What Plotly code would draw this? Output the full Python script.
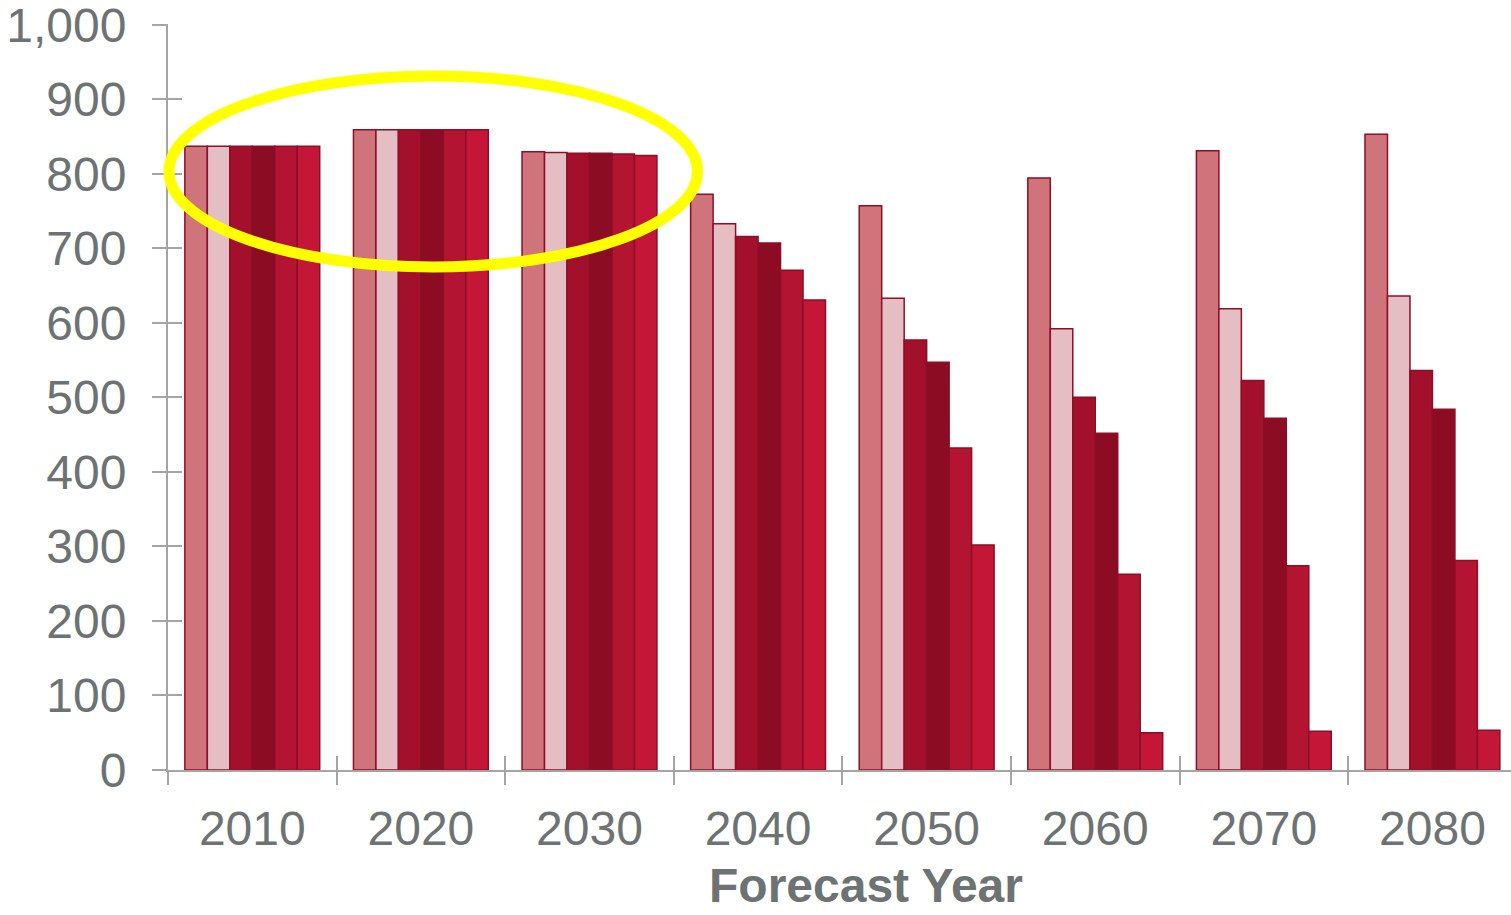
import plotly.graph_objects as go

years = ["2010", "2020", "2030", "2040", "2050", "2060", "2070", "2080"]
series_names = ["Scenario 1", "Scenario 2", "Scenario 3", "Scenario 4", "Scenario 5", "Scenario 6"]
s1 = [837, 859, 829.5, 772.5, 757, 794.5, 831, 853]
s2 = [837, 859, 828.5, 733, 633, 592, 619, 636]
s3 = [837, 859, 827.5, 716, 577, 500, 522.5, 536]
s4 = [837, 859, 827.5, 707, 547, 452, 472, 484]
s5 = [837, 859, 826.5, 670.5, 432, 262.5, 274, 281]
s6 = [837, 859, 824.5, 630.5, 302, 50, 52, 53.5]
series_values = [s1, s2, s3, s4, s5, s6]
colors = ["#D0747B", "#E5BEC3", "#A3102B", "#8C0C24", "#B31432", "#C41636"]
y_ticks = list(range(0, 1001, 100))

AXIS_GRAY = "#A4A4A4"
TEXT_GRAY = "#6D7272"
FONT = "Liberation Sans, Arial, Helvetica, sans-serif"

fig = go.Figure()
for name, vals, col in zip(series_names, series_values, colors):
    fig.add_trace(go.Bar(
        x=years, y=vals, name=name,
        marker=dict(color=col, line=dict(color="#8E0E27", width=1.5)),
    ))

# helper trace for overlay axes (inner half of crossing ticks)
fig.add_trace(go.Scatter(
    x=years, y=s1, xaxis="x2", yaxis="y2", mode="markers",
    marker=dict(opacity=0, size=1), hoverinfo="skip", showlegend=False,
))

xr = [-0.5, 7.466]
yr = [0, 1001]
fig.update_layout(
    width=1511, height=915,
    margin=dict(l=168, r=0, t=24, b=145),
    plot_bgcolor="white", paper_bgcolor="white",
    barmode="group", bargap=0.2, bargroupgap=0,
    showlegend=False,
    font=dict(family=FONT, color=TEXT_GRAY),
    xaxis=dict(
        type="category", categoryorder="array", categoryarray=years,
        range=xr, showline=True, linecolor=AXIS_GRAY, linewidth=2,
        ticks="outside", ticklen=13, tickwidth=2, tickcolor=AXIS_GRAY,
        tickson="boundaries", tickfont=dict(size=48, color=TEXT_GRAY),
        showgrid=False, zeroline=False, ticklabelstandoff=15,
    ),
    yaxis=dict(
        range=yr, tickmode="array", tickvals=y_ticks, tickformat=",",
        showline=True, linecolor=AXIS_GRAY, linewidth=2,
        ticks="outside", ticklen=14, tickwidth=2, tickcolor=AXIS_GRAY,
        tickfont=dict(size=48, color=TEXT_GRAY), ticklabelstandoff=16,
        showgrid=False, zeroline=False, ticklabeloverflow="allow",
    ),
    xaxis2=dict(
        type="category", categoryorder="array", categoryarray=years,
        overlaying="x", range=xr, showline=False, showticklabels=False,
        ticks="inside", ticklen=14, tickwidth=2, tickcolor=AXIS_GRAY,
        tickson="boundaries", showgrid=False, zeroline=False, side="bottom",
    ),
    yaxis2=dict(
        overlaying="y", range=yr, tickmode="array", tickvals=y_ticks,
        showline=False, showticklabels=False,
        ticks="inside", ticklen=14, tickwidth=2, tickcolor=AXIS_GRAY,
        showgrid=False, zeroline=False, side="left",
    ),
)

fig.add_annotation(
    text="<b>Forecast Year</b>", xref="paper", yref="paper",
    x=(866 - 168) / 1343, y=(770 - 885) / 746,
    xanchor="center", yanchor="middle", showarrow=False,
    font=dict(size=48, color=TEXT_GRAY, family=FONT),
)

fig.add_shape(
    type="circle", xref="paper", yref="paper",
    x0=(169 - 168) / 1343, x1=(697.5 - 168) / 1343,
    y0=(770 - 267) / 746, y1=(770 - 76) / 746,
    line=dict(color="#FFFF00", width=11), layer="above",
)

fig.write_html("out.html")
